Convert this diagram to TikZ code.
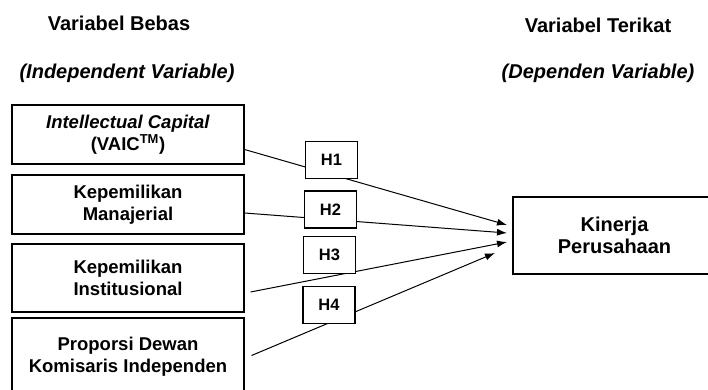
\documentclass[tikz,border=0pt]{standalone}
\usepackage{fontspec}
\setmainfont{Liberation Sans}
\usetikzlibrary{arrows.meta,positioning}

\begin{document}
\begin{tikzpicture}
[x=1pt,y=-1pt,
header/.style={font=\fontsize{20}{24}\selectfont\bfseries},
varbox/.style={draw,line width=1.1pt,fill=white,align=center,inner sep=0pt,
  minimum width=232pt,font=\fontsize{18.5}{21.5}\selectfont\bfseries},
hypobox/.style={draw,line width=1.1pt,fill=white,inner sep=0pt,
  minimum width=52pt,minimum height=37pt,font=\fontsize{16.5}{20}\selectfont\bfseries},
link/.style={line width=1pt,-{Latex[length=10pt,width=7pt]}}]
\useasboundingbox (0,0) rectangle (708,390);
% headers
\node[header] (bebas) at (119,23) {Variabel Bebas};
\node[header] (indep) at (127,73) {\itshape (Independent Variable)};
\node[header] (terikat) at (598,25) {Variabel Terikat};
\node[header] (dep) at (598,73) {\itshape (Dependen Variable)};
% variables
\node[varbox,minimum height=59pt] (vaic) at (128,134.5) {\textit{Intellectual Capital}\\(VAIC\textsuperscript{TM})};
\node[varbox,minimum height=59pt] (manajerial) at (128,204.5) {Kepemilikan\\Manajerial};
\node[varbox,minimum height=68pt] (institusional) at (128,278) {Kepemilikan\\Institusional};
\node[varbox,minimum height=77pt] (komisaris) at (128,356.5) {Proporsi Dewan\\Komisaris Independen};
\node[varbox,minimum width=203pt,minimum height=77pt,font=\fontsize{20}{22}\selectfont\bfseries]
  (kinerja) at (614.5,235.5) {Kinerja\\Perusahaan};
% arrow ends
\coordinate (t1) at (507,225);
\coordinate (t2) at (507,233);
\coordinate (t3) at (507,242);
\coordinate (t4) at (495,253);
\draw[link] ([yshift=-15pt]vaic.east) -- (t1);
\draw[link] ([yshift=-8.5pt]manajerial.east) -- (t2);
\draw[link] ([xshift=6pt,yshift=-14pt]institusional.east) -- (t3);
\draw[link] ([xshift=7pt,yshift=1pt]komisaris.east) -- (t4);
% hypotheses
\node[hypobox] (h1) at (331.5,160) {H1};
\node[hypobox] (h2) at (330.5,209.5) {H2};
\node[hypobox] (h3) at (329.5,255) {H3};
\node[hypobox] (h4) at (329,305) {H4};
\end{tikzpicture}
\end{document}
